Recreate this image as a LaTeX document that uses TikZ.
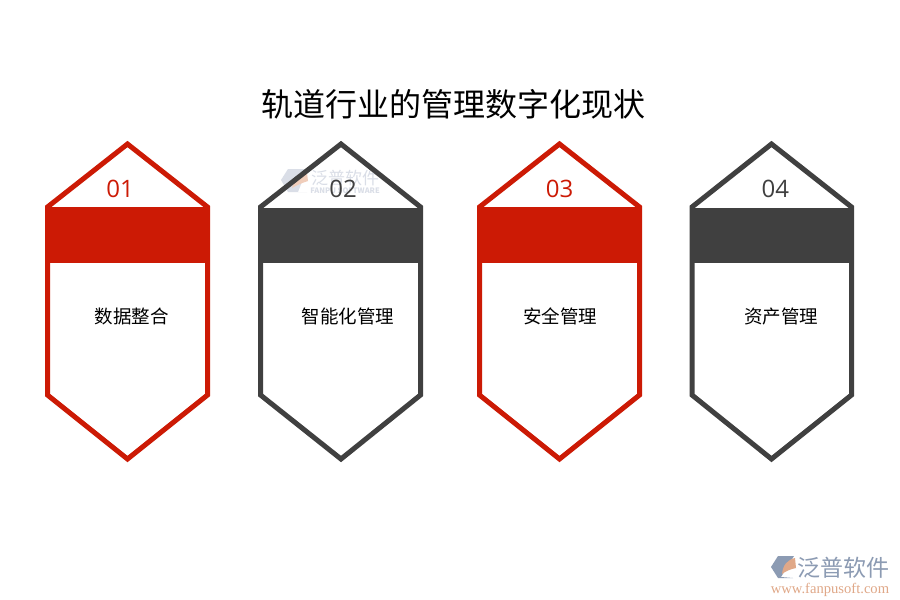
\documentclass[tikz,border=0pt]{standalone}
\usepackage{fontspec}
\setmainfont{Noto Sans CJK SC}
\newfontfamily\numfont{Open Sans}
\newfontfamily\urlfont{Liberation Serif}
\usepackage{tikz}
\usetikzlibrary{calc}

\definecolor{framered}{HTML}{CC1A05}
\definecolor{framedark}{HTML}{404040}
\definecolor{logoblue}{HTML}{8C9BB3}
\definecolor{logoorange}{HTML}{E0A888}
\definecolor{markblue}{HTML}{DADEE7}
\definecolor{markorange}{HTML}{F0CDBA}

\tikzset{
  frame/.style={line width=5pt,miter limit=10,line join=miter},
  band/.style={draw=none},
  numlabel/.style={inner sep=0pt,font=\fontsize{24}{24}\selectfont},
  itemlabel/.style={inner sep=0pt,text=black,font=\fontsize{18.5}{19}\selectfont},
}

\begin{document}
\begin{tikzpicture}[x=1pt,y=-1pt]
\useasboundingbox (0,0) rectangle (900,600);
\fill [white] (0,0) rectangle (900,600);

% watermark behind the second card
\fill [markblue] (288,169) -- (307,169) -- (298,192) -- (307,192) -- (288,192) -- (281,180) -- cycle;
\fill [markorange] (292,188) .. controls (294,178) and (299,175) .. (307,173) -- (308,181) .. controls (302,183) and (297,185) .. (292,188) -- cycle;
\node [inner sep=0pt,text=markblue,font=\fontsize{17}{17}\selectfont] (markname) at (345,178) {泛普软件};
\node [inner sep=0pt,text=markblue,font=\fontsize{7.5}{8}\selectfont\bfseries] (markurl) at (345,191) {FANPU SOFTWARE};

\node [inner sep=0pt,text=black,font=\fontsize{32}{32}\selectfont] (title) at (453,104) {轨道行业的管理数字化现状};

% cards
\draw [frame,draw=framered] (127.5,144) -- (207.5,207) -- (207.5,395) -- (127.5,459) -- (47.5,395) -- (47.5,207) -- cycle;
\fill [band,fill=framered] (47.5,207) rectangle (207.5,263);
\draw [frame,draw=framedark] (341,144) -- (420.5,207) -- (420.5,395) -- (341,459) -- (260.5,395) -- (260.5,207) -- cycle;
\fill [band,fill=framedark] (260.5,208) rectangle (420.5,263);
\draw [frame,draw=framered] (559.5,144) -- (639.5,207) -- (639.5,395) -- (559.5,459) -- (479.5,395) -- (479.5,207) -- cycle;
\fill [band,fill=framered] (479.5,207) rectangle (639.5,263);
\draw [frame,draw=framedark] (771.5,144) -- (851.5,207) -- (851.5,395) -- (771.5,459) -- (692,395) -- (692,207) -- cycle;
\fill [band,fill=framedark] (692,208) rectangle (851.5,263);

\node [numlabel,text=framered] (num1) at (120,189) {\numfont 01};
\node [numlabel,text=framedark] (num2) at (343,189) {\numfont 02};
\node [numlabel,text=framered] (num3) at (559.7,189) {\numfont 03};
\node [numlabel,text=framedark] (num4) at (775.4,189) {\numfont 04};

\node [itemlabel] (item1) at (131.5,316) {数据整合};
\node [itemlabel] (item2) at (348,316) {智能化管理};
\node [itemlabel] (item3) at (560,316) {安全管理};
\node [itemlabel] (item4) at (781,316) {资产管理};

% logo bottom right
\fill [logoblue] (778,556) -- (794,556) -- (781,577) -- (793,578) -- (778,578) -- (771,567) -- cycle;
\fill [logoorange] (782,574) .. controls (783,565) and (787,560) .. (795,558) -- (796,568) .. controls (791,569) and (786,571) .. (782,574) -- cycle;
\node [inner sep=0pt,text=logoblue,font=\fontsize{23}{23}\selectfont] (logoname) at (843,568) {泛普软件};
\node [inner sep=0pt,text=logoorange,font=\urlfont\fontsize{14.6}{15}\selectfont] (logourl) at (830,590) {www.fanpusoft.com};
\end{tikzpicture}
\end{document}
